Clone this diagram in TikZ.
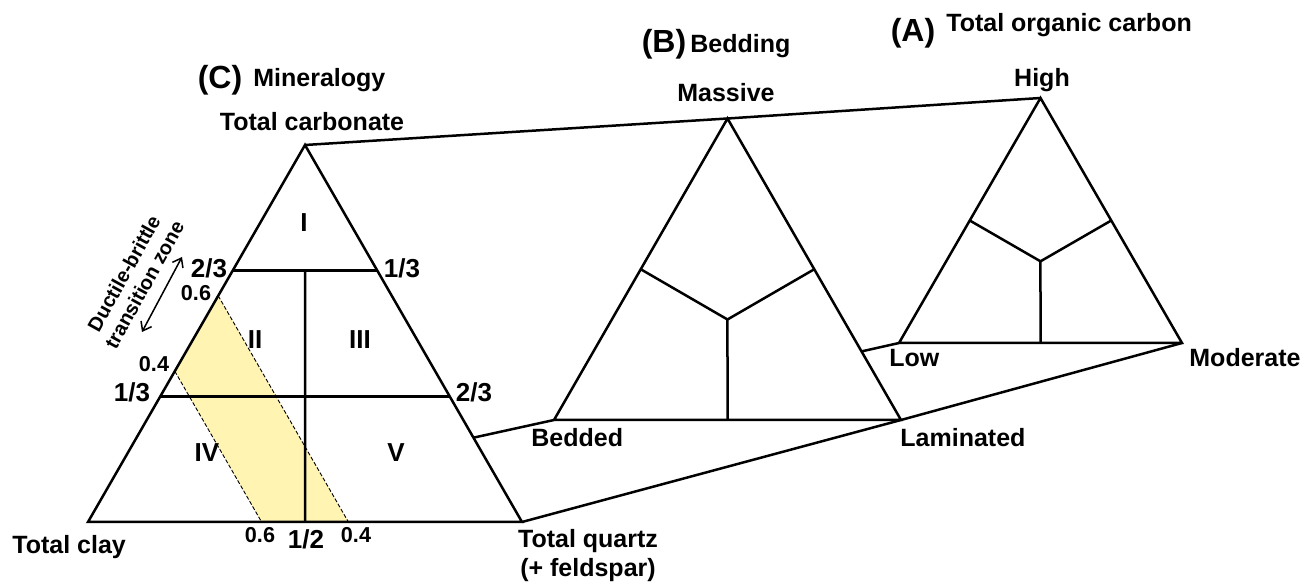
\documentclass[tikz,border=0pt]{standalone}
\usepackage{fontspec}
\setmainfont{Liberation Sans}
\usetikzlibrary{calc,arrows.meta}
\definecolor{zoneyellow}{RGB}{255,244,178}

\begin{document}
\begin{tikzpicture}[x=0.5pt, y=-0.5pt,
  side/.style={line width=1.25pt},
  link/.style={line width=1.25pt},
  zone/.style={draw=black, line width=0.45pt, dash pattern=on 2pt off 1pt},
  lbl/.style={font=\fontsize{12.5}{14.5}\selectfont\bfseries, inner sep=0pt},
  ratio/.style={font=\fontsize{13}{15}\selectfont\bfseries, inner sep=0pt},
  frac/.style={font=\fontsize{10.8}{12}\selectfont\bfseries, inner sep=0pt},
  panel/.style={font=\fontsize{16}{18}\selectfont\bfseries, inner sep=0pt},
  note/.style={font=\fontsize{10}{11.7}\selectfont\bfseries, inner sep=0pt,
    align=center, rotate=61},
  dbarr/.style={{Straight Barb[length=4pt,width=6pt]}-{Straight Barb[length=4pt,width=6pt]},
    line width=0.75pt},
]
\useasboundingbox (0,0) rectangle (1302,582);

% Triangle vertices (C, B, A)
\coordinate (Cl) at (88,522);
\coordinate (Cr) at (522,522);
\coordinate (Ct) at (305,145);
\coordinate (Bl) at (554,420);
\coordinate (Br) at (901,420);
\coordinate (Bt) at (727.5,118.5);
\coordinate (Al) at (899,343);
\coordinate (Ar) at (1182,343);
\coordinate (At) at (1040.5,98);

% Mineralogy grid points
\coordinate (H23l) at ($(Cl)!2/3!(Ct)$);
\coordinate (H23r) at ($(Cr)!2/3!(Ct)$);
\coordinate (H13l) at ($(Cl)!1/3!(Ct)$);
\coordinate (H13r) at ($(Cr)!1/3!(Ct)$);
\coordinate (Hm) at ($(H23l)!0.5!(H23r)$);
\coordinate (Cb) at ($(Cl)!0.5!(Cr)$);
\coordinate (L06) at ($(Cl)!0.6!(Ct)$);
\coordinate (L04) at ($(Cl)!0.4!(Ct)$);
\coordinate (S06) at ($(Cl)!0.6!(Cr)$);
\coordinate (S04) at ($(Cl)!0.4!(Cr)$);

% Ductile-brittle band
\fill[zoneyellow] (L04) -- (L06) -- (S06) -- (S04) -- cycle;
\draw[zone] (L06) -- (S06);
\draw[zone] (L04) -- (S04);

% (C) Mineralogy
\draw[side] (Cl) -- (Cr) -- (Ct) -- cycle;
\draw[side] (H23l) -- (H23r);
\draw[side] (H13l) -- (H13r);
\draw[side] (Cb) -- (Hm);

% (B) Bedding
\coordinate (Bc) at (barycentric cs:Bl=1,Br=1,Bt=1);
\draw[side] (Bl) -- (Br) -- (Bt) -- cycle;
\draw[side] ($(Bl)!0.5!(Bt)$) -- (Bc) -- ($(Br)!0.5!(Bt)$);
\draw[side] (Bc) -- ($(Bl)!0.5!(Br)$);

% (A) Total organic carbon
\coordinate (Ac) at (barycentric cs:Al=1,Ar=1,At=1);
\draw[side] (Al) -- (Ar) -- (At) -- cycle;
\draw[side] ($(Al)!0.5!(At)$) -- (Ac) -- ($(Ar)!0.5!(At)$);
\draw[side] (Ac) -- ($(Al)!0.5!(Ar)$);

% Stacking lines
\draw[link] (Ct) -- (Bt) -- (At);
\draw[link] (Cr) -- (Br) -- (Ar);
\draw[link] (intersection of Cl--Bl and Ct--Cr) -- (Bl);
\draw[link] (intersection of Bl--Al and Bt--Br) -- (Al);

% Panel titles
\node[panel, anchor=base] (pC) at (220,89) {(C)};
\node[lbl, anchor=base west] (tC) at (253,87) {Mineralogy};
\node[panel, anchor=base] (pB) at (664,53) {(B)};
\node[lbl, anchor=base west] (tB) at (690,53) {Bedding};
\node[panel, anchor=base] (pA) at (913,42) {(A)};
\node[lbl, anchor=base west] (tA) at (946,32) {Total organic carbon};

% Vertex labels
\node[lbl, anchor=base] (vcarb) at (312,131) {Total carbonate};
\node[lbl, anchor=base west] (vclay) at (12,553) {Total clay};
\node[lbl, align=center] (vqtz) at (588,556) {Total quartz\\(+ feldspar)};
\node[lbl, anchor=base] (vmass) at (726,102) {Massive};
\node[lbl, anchor=base west] (vbed) at (531,447) {Bedded};
\node[lbl, anchor=base west] (vlam) at (900,447) {Laminated};
\node[lbl, anchor=base] (vhigh) at (1042,87) {High};
\node[lbl, anchor=base west] (vlow) at (889,367) {Low};
\node[lbl, anchor=base west] (vmod) at (1189,367) {Moderate};

% Fractions
\node[ratio] (f23l) at (209,268) {2/3};
\node[ratio] (f13r) at (402,268) {1/3};
\node[ratio] (f13l) at (132,392) {1/3};
\node[ratio] (f23r) at (474,392) {2/3};
\node[ratio] (f12) at (306,539) {1/2};
\node[frac] (f06l) at (196,293) {0.6};
\node[frac] (f04l) at (154,364) {0.4};
\node[frac] (f06b) at (260,535) {0.6};
\node[frac] (f04b) at (356,535) {0.4};

% Fields
\node[ratio] (rI) at (304,223) {I};
\node[ratio] (rII) at (255,340) {II};
\node[ratio] (rIII) at (360,340) {III};
\node[ratio] (rIV) at (207,453) {IV};
\node[ratio] (rV) at (396,453) {V};

% Transition zone
\coordinate (dbtop) at (182,257);
\coordinate (dbbot) at (142,332);
\draw[dbarr] (dbbot) -- (dbtop);
\node[note] (dbtext) at (134,279) {Ductile-brittle\\transition zone};
\end{tikzpicture}
\end{document}
